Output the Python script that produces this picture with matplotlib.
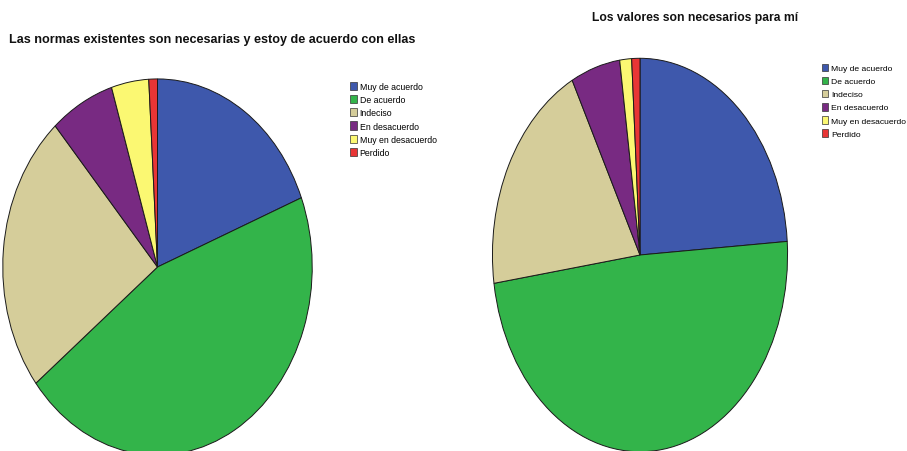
import matplotlib
matplotlib.use("Agg")
import matplotlib.pyplot as plt
from matplotlib.patches import Patch

plt.rcParams['font.family'] = ['Liberation Sans', 'DejaVu Sans']

categories = ["Muy de acuerdo", "De acuerdo", "Indeciso", "En desacuerdo",
              "Muy en desacuerdo", "Perdido"]
normas_pct = [19.0, 45.4, 24.1, 6.7, 3.9, 0.9]
valores_pct = [23.9, 48.8, 19.7, 5.4, 1.3, 0.9]
title_normas = "Las normas existentes son necesarias y estoy de acuerdo con ellas"
title_valores = "Los valores son necesarios para mí"

colors = ["#3e58ac", "#33b44a", "#d5cd9a", "#782a82", "#fbf872", "#e83535"]

W, H = 907, 452
fig = plt.figure(figsize=(W / 100, H / 100), dpi=100)


def px_axes(x0, y0, x1, y1):
    return fig.add_axes([x0 / W, (H - y1) / H, (x1 - x0) / W, (y1 - y0) / H])


def draw_pie(ax, vals):
    ax.pie(vals, colors=colors, startangle=90, counterclock=False,
           radius=1.0, wedgeprops=dict(edgecolor="#1a1a1a", linewidth=0.7))
    ax.set_aspect('auto')
    ax.set_xlim(-1.005, 1.005)
    ax.set_ylim(-1.005, 1.005)
    ax.axis('off')


ax1 = px_axes(2, 79, 313, 457)
draw_pie(ax1, normas_pct)
ax2 = px_axes(491.7, 58.3, 788.3, 453.7)
draw_pie(ax2, valores_pct)

fig.text(212.5 / W, 1 - 40.5 / H, title_normas, ha='center', va='center',
         fontsize=9.1, fontweight='bold', color='#111111')
fig.text(695 / W, 1 - 17.5 / H, title_valores, ha='center', va='center',
         fontsize=8.7, fontweight='bold', color='#111111')

handles = [Patch(facecolor=c, edgecolor="#333333", linewidth=0.5) for c in colors]


def add_legend(x, y, fs, spacing):
    fig.legend(handles, categories, loc='upper left',
               bbox_to_anchor=(x / W, 1 - y / H), frameon=False,
               fontsize=fs, handlelength=0.75, handleheight=1.05,
               handletextpad=0.35, labelspacing=spacing, borderpad=0,
               borderaxespad=0)


add_legend(350, 82.5, 6.3, 0.49)
add_legend(822, 64.5, 6.1, 0.5)

fig.savefig("out.png", dpi=100)
